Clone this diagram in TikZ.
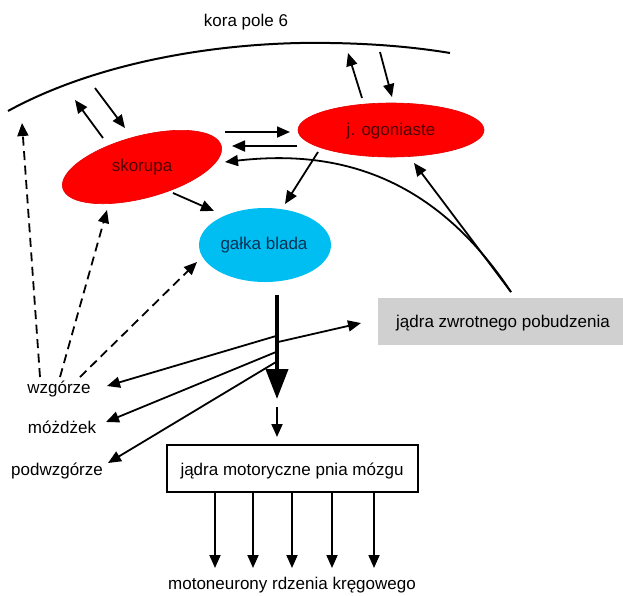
\documentclass[tikz,border=0pt]{standalone}
\usepackage{fontspec}
\setmainfont{Liberation Sans}
\usetikzlibrary{arrows.meta,shapes.geometric}

\definecolor{nucred}{RGB}{255,0,0}
\definecolor{nucredline}{RGB}{230,0,0}
\definecolor{pallcyan}{RGB}{0,190,242}
\definecolor{redtext}{RGB}{80,0,0}
\definecolor{cyantext}{RGB}{10,50,85}
\definecolor{boxgray}{RGB}{208,208,208}

\tikzset{
  lbl/.style={anchor=base, inner sep=0pt, font=\fontsize{17}{20}\selectfont},
  redblob/.style={ellipse, fill=nucred, draw=nucredline, line width=0.6pt, inner sep=0pt},
  cyanblob/.style={ellipse, fill=pallcyan, draw=none, inner sep=0pt},
  arr/.style={line width=1.8pt, -{Triangle[length=13pt,width=11pt]}},
  dasharr/.style={arr, dash pattern=on 9pt off 5.5pt},
  thickarr/.style={line width=4pt, -{Triangle[length=30pt,width=22pt]}},
  smallarr/.style={line width=1.8pt, -{Triangle[length=13pt,width=11pt]}},
}

\begin{document}
\begin{tikzpicture}[x=1pt, y=-1pt]
\useasboundingbox (0,0) rectangle (623,595);

% cortical surface
\draw[line width=2pt] (8,111) .. controls (90,66) and (200,45) .. (300,43)
  .. controls (370,42) and (420,48) .. (450,53);
\node[lbl] (kora) at (246,26) {kora pole 6};

% basal ganglia nuclei
\node[redblob, minimum width=164pt, minimum height=62pt, rotate=15] (sk) at (142,167) {};
\node[lbl, text=redtext] (sktxt) at (142,171) {skorupa};
\node[redblob, minimum width=186pt, minimum height=54pt] (og) at (391,130) {};
\node[lbl, text=redtext] (ogtxt) at (391,135) {j. ogoniaste};
\node[cyanblob, minimum width=132pt, minimum height=74pt] (gb) at (265,245) {};
\node[lbl, text=cyantext] (gbtxt) at (264,249) {gałka blada};

% target structures
\node[fill=boxgray, minimum width=245pt, minimum height=47pt, inner sep=0pt] (zw) at (500.5,321.5) {};
\node[lbl] (zwtxt) at (503,327) {jądra zwrotnego pobudzenia};
\node[draw, line width=1.5pt, minimum width=251pt, minimum height=47pt, inner sep=0pt] (mot) at (292.5,468.5) {};
\node[lbl] (mottxt) at (292,475) {jądra motoryczne pnia mózgu};
\node[lbl] (wz) at (59,393) {wzgórze};
\node[lbl] (mo) at (62,433) {móżdżek};
\node[lbl] (pw) at (57,475) {podwzgórze};
\node[lbl] (mn) at (292,589) {motoneurony rdzenia kręgowego};

% connector end points
\coordinate (cxA) at (75,100);   \coordinate (cxB) at (95,88);
\coordinate (cxC) at (348,53);   \coordinate (cxD) at (380,52);
\coordinate (skA) at (103,138);  \coordinate (skB) at (125,128);
\coordinate (skR1) at (225,132); \coordinate (skR2) at (232,146);
\coordinate (skR3) at (225,162); \coordinate (skS) at (173,193);
\coordinate (skDash) at (107,210);
\coordinate (ogA) at (362,98);   \coordinate (ogB) at (392,97);
\coordinate (ogL1) at (290,132); \coordinate (ogL2) at (297,146);
\coordinate (ogS) at (318,152);  \coordinate (ogBot) at (414,163);
\coordinate (gbIn1) at (285,204); \coordinate (gbIn2) at (214,211);
\coordinate (gbDash) at (197,262); \coordinate (gbOut) at (277,295);
\coordinate (cxDash) at (22,123);
\coordinate (zwTop) at (511,292); \coordinate (zwIn) at (361,323);
\coordinate (wzA) at (40,377);   \coordinate (wzB) at (60,377);   \coordinate (wzC) at (80,377);
\coordinate (wzIn) at (107,386); \coordinate (moIn) at (106,422); \coordinate (pwIn) at (108,463);
\coordinate (axZw) at (278,342); \coordinate (axWz) at (276,336);
\coordinate (axMo) at (276,352); \coordinate (axPw) at (276,362);
\coordinate (axEnd) at (277,399);
\coordinate (motIn0) at (277,407); \coordinate (motIn) at (277,437);

% cortex loops
\draw[arr] (skA) -- (cxA);
\draw[arr] (cxB) -- (skB);
\draw[arr] (ogA) -- (cxC);
\draw[arr] (cxD) -- (ogB);

% striatal connections
\draw[arr] (skR1) -- (ogL1);
\draw[arr] (ogL2) -- (skR2);
\draw[arr] (ogS) -- (gbIn1);
\draw[arr] (skS) -- (gbIn2);

% feedback from jądra zwrotnego pobudzenia
\draw[arr] (zwTop) .. controls (430,170) and (330,150) .. (skR3);
\draw[arr] (zwTop) -- (ogBot);

% thalamic inputs
\draw[dasharr] (wzA) -- (cxDash);
\draw[dasharr] (wzB) -- (skDash);
\draw[dasharr] (wzC) -- (gbDash);

% pallidal output
\draw[thickarr] (gbOut) -- (axEnd);
\draw[smallarr] (motIn0) -- (motIn);
\draw[arr] (axZw) -- (zwIn);
\draw[arr] (axWz) -- (wzIn);
\draw[arr] (axMo) -- (moIn);
\draw[arr] (axPw) -- (pwIn);

% brainstem to spinal motoneurons
\foreach \xx in {215,253,292,332,374}
  \draw[arr] (\xx,492) -- (\xx,568);
\end{tikzpicture}
\end{document}
